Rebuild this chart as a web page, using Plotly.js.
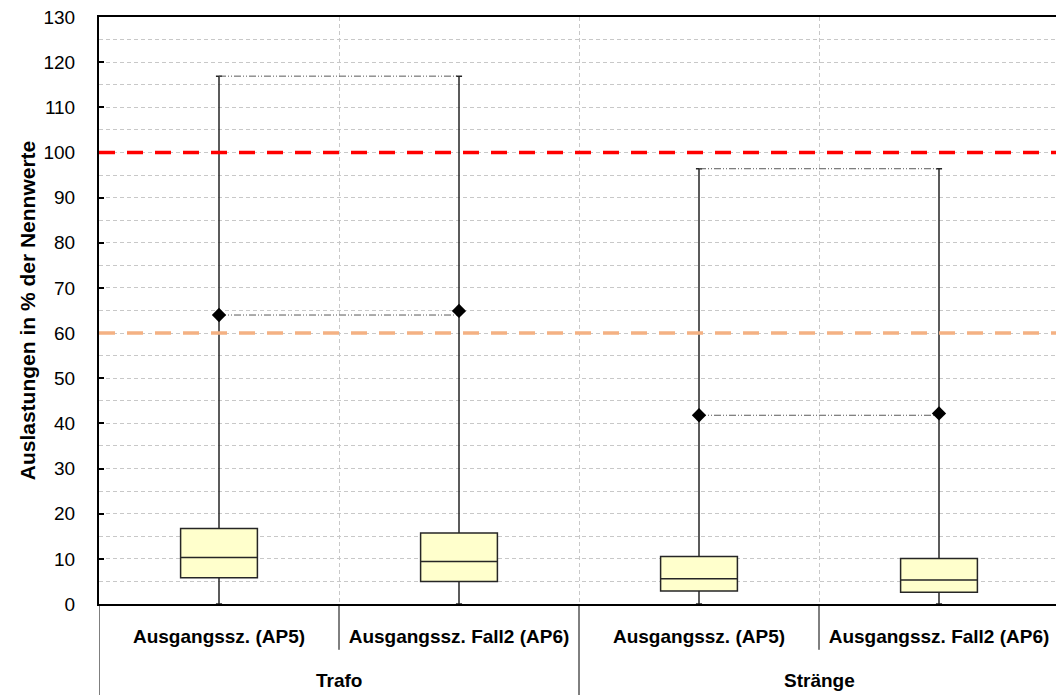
<!DOCTYPE html>
<html>
<head>
<meta charset="utf-8">
<script src="https://cdn.plot.ly/plotly-3.0.1.min.js"></script>
<style>
html,body{margin:0;padding:0;overflow:hidden;background:#fff;}
#chart{width:1060px;height:695px;}
</style>
</head>
<body>
<div id="chart"></div>
<script>
// ---- data ----
const parents  = ["Trafo", "Trafo", "Stränge", "Stränge"];
const children = ["Ausgangssz. (AP5)", "Ausgangssz. Fall2 (AP6)", "Ausgangssz. (AP5)", "Ausgangssz. Fall2 (AP6)"];
const minVals    = [0, 0, 0, 0];
const q1Vals     = [5.8, 5.0, 2.9, 2.6];
const medianVals = [10.3, 9.4, 5.6, 5.3];
const q3Vals     = [16.7, 15.7, 10.5, 10.1];
const maxVals    = [116.9, 116.9, 96.4, 96.4];
const meanVals   = [64.0, 64.9, 41.8, 42.2];
const limitHigh = 100;
const limitWarn = 60;
const yTickVals = [0,10,20,30,40,50,60,70,80,90,100,110,120,130];

// unique category keys (parent + child), shown with the child label
const keys = parents.map((p, i) => p + " | " + children[i]);
const groupNames = ["Trafo", "Stränge"];

const FONT = "Liberation Sans, Arial, sans-serif";
const traces = [];

traces.push({
  type: "box",
  x: keys,
  q1: q1Vals, median: medianVals, q3: q3Vals,
  lowerfence: minVals, upperfence: maxVals,
  width: 0.32,
  whiskerwidth: 0.08,
  fillcolor: "#FFFFCC",
  line: {color: "#262626", width: 1.5},
  boxpoints: false,
  hoverinfo: "skip",
  showlegend: false
});

// horizontal connector lines within each group, at the first box's value
const groups = [[0,1],[2,3]];
groups.forEach(g => {
  [maxVals, meanVals].forEach(arr => {
    traces.push({
      type: "scatter", mode: "lines",
      x: [keys[g[0]], keys[g[1]]],
      y: [arr[g[0]], arr[g[0]]],
      line: {color: "#595959", width: 1, dash: "7px,2px,1px,2px,1px,2px"},
      hoverinfo: "skip", showlegend: false
    });
  });
});

traces.push({
  type: "scatter", mode: "markers",
  x: keys,
  y: meanVals,
  marker: {symbol: "diamond", size: 11, color: "#000000"},
  hoverinfo: "skip", showlegend: false
});

const shapes = [
  {type: "line", xref: "paper", x0: 0, x1: 1, yref: "y", y0: limitHigh, y1: limitHigh,
   line: {color: "#FF0000", width: 3.5, dash: "16px,12px"}},
  {type: "line", xref: "paper", x0: 0, x1: 1, yref: "y", y0: limitWarn, y1: limitWarn,
   line: {color: "#F4B183", width: 3.5, dash: "16px,12px"}}
];
// dividers below the axis
for (let i = 0; i <= keys.length; i++) {
  const b = i - 0.5;
  const isGroupEdge = (i === 0 || i === keys.length || parents[i] !== parents[i-1]);
  shapes.push({type: "line", xref: "x", x0: b, x1: b, yref: "paper", y0: 0,
    y1: isGroupEdge ? -0.16 : -0.078, line: {color: "#000", width: 1}});
}

const annotations = groupNames.map(g => {
  const idx = parents.map((p, i) => p === g ? i : -1).filter(i => i >= 0);
  const mid = (idx[0] + idx[idx.length - 1]) / 2;
  return {xref: "x", x: mid, yref: "paper", y: -0.1295, yanchor: "middle", xanchor: "center",
    text: g, showarrow: false, font: {family: FONT, size: 19, weight: "bold", color: "#000"}};
});

const layout = {
  width: 1060, height: 695,
  margin: {l: 99, r: 1, t: 17, b: 91},
  paper_bgcolor: "#ffffff", plot_bgcolor: "#ffffff",
  font: {family: FONT, color: "#000"},
  showlegend: false,
  xaxis: {
    type: "category",
    range: [-0.5, keys.length - 0.5],
    tickmode: "array", tickvals: keys, ticktext: children,
    tickson: "boundaries",
    ticks: "",
    showgrid: true, gridcolor: "#C8C8C8", griddash: "4px,3px", gridwidth: 1,
    showline: true, linecolor: "#000", linewidth: 2, mirror: true,
    tickfont: {family: FONT, size: 19, color: "#000", weight: "bold"},
    ticklabelstandoff: 14,
    zeroline: false
  },
  yaxis: {
    range: [0, 130],
    tickvals: yTickVals,
    ticks: "inside", ticklen: 5, tickcolor: "#000", tickwidth: 2,
    showgrid: true, gridcolor: "#C8C8C8", griddash: "4px,3px", gridwidth: 1,
    minor: {dtick: 5, tick0: 0, showgrid: true, gridcolor: "#C8C8C8", griddash: "4px,3px", gridwidth: 1, ticks: ""},
    showline: true, linecolor: "#000", linewidth: 2,
    zeroline: false,
    tickfont: {family: FONT, size: 19, color: "#000"},
    ticklabelstandoff: 18,
    title: {text: "Auslastungen in % der Nennwerte", font: {family: FONT, size: 21, weight: "bold", color: "#000"}, standoff: 2}
  },
  shapes: shapes,
  annotations: annotations
};

Plotly.newPlot("chart", traces, layout, {displayModeBar: false, staticPlot: true});
</script>
</body>
</html>
